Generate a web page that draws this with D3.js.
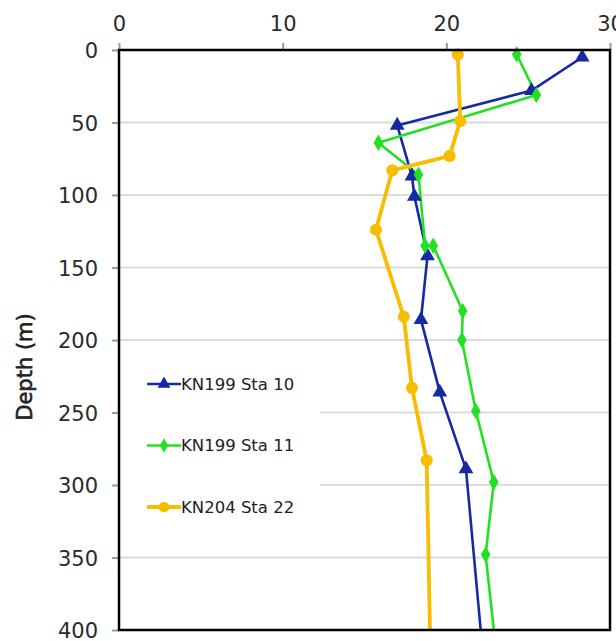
<!DOCTYPE html>
<html>
<head>
<meta charset="utf-8">
<script src="https://cdn.jsdelivr.net/npm/d3@7"></script>
<style>
  body { margin: 0; background: #fff; }
  svg { display: block; font-family: "DejaVu Sans", sans-serif; }
</style>
</head>
<body>
<div id="chart"></div>
<script>
'use strict';

// temperature (x) vs depth (y) for each station
const sta10Temp = [28.3, 25.2, 17.0, 17.9, 18.05, 18.85, 18.45, 19.6, 21.2, 22.1];
const sta10Depth = [5, 28, 52, 87, 101, 142, 186, 236, 289, 400];

const sta11Temp = [24.3, 25.5, 15.85, 18.3, 18.7, 19.2, 21.0, 20.95, 21.8, 22.9, 22.4, 22.9];
const sta11Depth = [3, 31, 64, 86, 135, 135, 180, 200, 249, 298, 348, 400];

const sta22Temp = [20.7, 20.85, 20.2, 16.7, 15.7, 17.4, 17.9, 18.8, 19.0];
const sta22Depth = [3, 49, 73, 83, 124, 184, 233, 283, 400];

const seriesNames = ['KN199 Sta 10', 'KN199 Sta 11', 'KN204 Sta 22'];
const xTicks = [0, 10, 20, 30];
const yTicks = [0, 50, 100, 150, 200, 250, 300, 350, 400];

const width = 616;
const height = 641;
const margin = { top: 50, left: 119, right: 6, bottom: 11 };
const plotW = width - margin.left - margin.right;
const plotH = height - margin.top - margin.bottom;

const series = [
  { name: seriesNames[0], temp: sta10Temp, depth: sta10Depth, color: '#1529a3', width: 2.6, symbol: d3.symbolTriangle, size: 95 },
  { name: seriesNames[1], temp: sta11Temp, depth: sta11Depth, color: '#22e022', width: 2.6, symbol: d3.symbolDiamond, size: 80 },
  { name: seriesNames[2], temp: sta22Temp, depth: sta22Depth, color: '#f7bd00', width: 3.8, symbol: d3.symbolCircle, size: 115 }
];

const svg = d3.select('#chart').append('svg')
  .attr('width', width)
  .attr('height', height);

const xScale = d3.scaleLinear().domain([0, 30]).range([0, plotW]);
const yScale = d3.scaleLinear().domain([0, 400]).range([0, plotH]);

const chart = svg.append('g')
  .attr('transform', `translate(${margin.left}, ${margin.top})`);

svg.append('defs').append('clipPath')
  .attr('id', 'plotclip')
  .append('rect')
  .attr('width', plotW)
  .attr('height', plotH);

// grid lines
chart.append('g')
  .selectAll('line')
  .data(yTicks.slice(1, -1))
  .join('line')
  .attr('x1', 0)
  .attr('x2', plotW)
  .attr('y1', d => yScale(d))
  .attr('y2', d => yScale(d))
  .attr('stroke', '#dcdcdc')
  .attr('stroke-width', 2);

// axes
const xAxis = d3.axisTop(xScale).tickValues(xTicks).tickSize(7).tickPadding(12);
const yAxis = d3.axisLeft(yScale).tickValues(yTicks).tickSize(7).tickPadding(14);

const gx = chart.append('g').call(xAxis);
const gy = chart.append('g').call(yAxis);
[gx, gy].forEach(g => {
  g.select('.domain').remove();
  g.selectAll('.tick line').attr('stroke', '#999').attr('stroke-width', 2);
  g.selectAll('.tick text')
    .attr('fill', '#2a2a2a')
    .style('font-size', '21px')
    .style('font-family', '"DejaVu Sans", sans-serif');
});
gy.selectAll('.tick text').attr('dy', '0.36em');

// legend box hides grid lines behind it
const legend = chart.append('g');
legend.append('rect')
  .attr('x', 1)
  .attr('y', 318)
  .attr('width', 200)
  .attr('height', 168)
  .attr('fill', '#fff');

const line = d3.line()
  .x(d => xScale(d[0]))
  .y(d => yScale(d[1]));

const plot = chart.append('g').attr('clip-path', 'url(#plotclip)');

series.forEach(s => {
  const pts = s.temp.map((t, i) => [t, s.depth[i]]);
  plot.append('path')
    .datum(pts)
    .attr('d', line)
    .attr('fill', 'none')
    .attr('stroke', s.color)
    .attr('stroke-width', s.width)
    .attr('stroke-linejoin', 'round');
  chart.append('g')
    .selectAll('path')
    .data(pts.filter(p => p[1] < 400))
    .join('path')
    .attr('transform', p => `translate(${xScale(p[0])}, ${yScale(p[1])})`)
    .attr('d', d3.symbol().type(s.symbol).size(s.size))
    .attr('fill', s.color);
});

// frame
chart.append('rect')
  .attr('width', plotW)
  .attr('height', plotH)
  .attr('fill', 'none')
  .attr('stroke', '#000')
  .attr('stroke-width', 2.5);

// legend entries
series.forEach((s, i) => {
  const y = 334 + i * 61.5;
  legend.append('line')
    .attr('x1', 28)
    .attr('x2', 62)
    .attr('y1', y)
    .attr('y2', y)
    .attr('stroke', s.color)
    .attr('stroke-width', s.width);
  legend.append('path')
    .attr('transform', `translate(45, ${y})`)
    .attr('d', d3.symbol().type(s.symbol).size(s.size * 0.75))
    .attr('fill', s.color);
  legend.append('text')
    .attr('x', 62)
    .attr('y', y)
    .attr('dy', '0.36em')
    .attr('fill', '#222')
    .style('font-size', '16.5px')
    .text(s.name);
});

// y axis title
svg.append('text')
  .attr('transform', 'translate(24, 367) rotate(-90)')
  .attr('text-anchor', 'middle')
  .attr('dy', '0.36em')
  .attr('fill', '#222')
  .attr('stroke', '#222')
  .attr('stroke-width', 0.6)
  .style('font-size', '21px')
  .text('Depth (m)');
</script>
</body>
</html>
